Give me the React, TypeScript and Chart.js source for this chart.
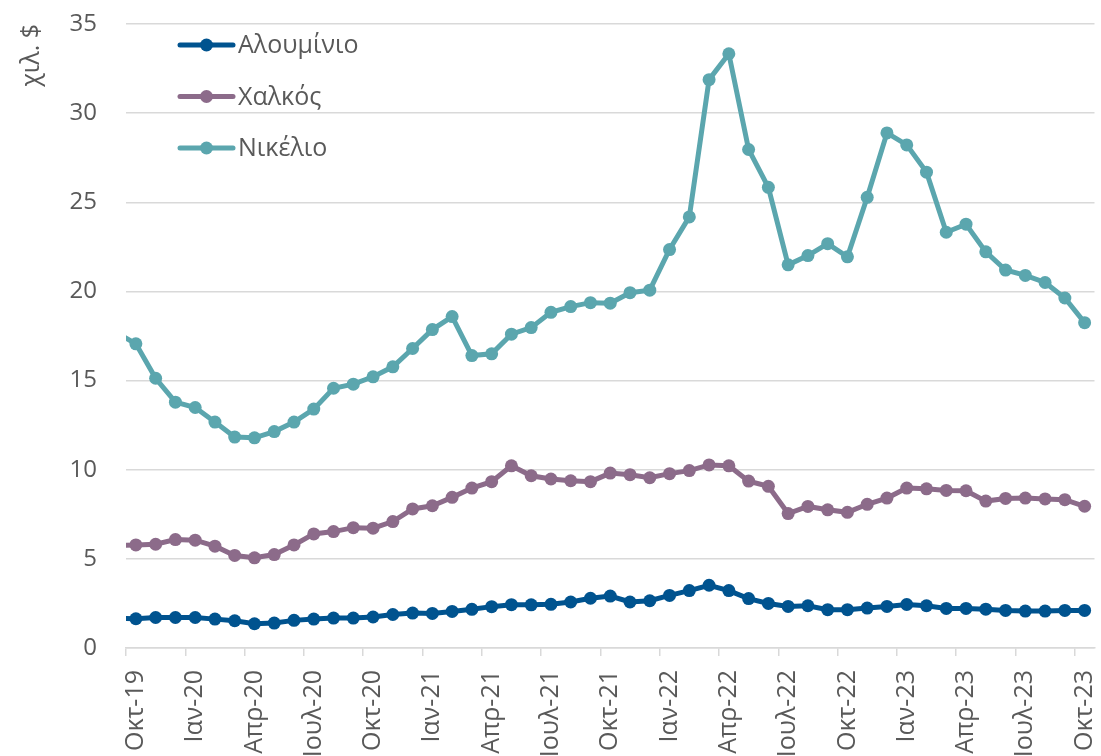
import React, { useEffect, useRef } from 'react';
import { Chart, registerables } from 'chart.js';

Chart.register(...registerables);

// Monthly categories, Sep-19 .. Oct-23 (Sep-19 is only partly visible at the left edge)
const months: string[] = [
  'Σεπ-19', 'Οκτ-19', 'Νοε-19', 'Δεκ-19',
  'Ιαν-20', 'Φεβ-20', 'Μαρ-20', 'Απρ-20', 'Μαϊ-20', 'Ιουν-20', 'Ιουλ-20', 'Αυγ-20', 'Σεπ-20', 'Οκτ-20', 'Νοε-20', 'Δεκ-20',
  'Ιαν-21', 'Φεβ-21', 'Μαρ-21', 'Απρ-21', 'Μαϊ-21', 'Ιουν-21', 'Ιουλ-21', 'Αυγ-21', 'Σεπ-21', 'Οκτ-21', 'Νοε-21', 'Δεκ-21',
  'Ιαν-22', 'Φεβ-22', 'Μαρ-22', 'Απρ-22', 'Μαϊ-22', 'Ιουν-22', 'Ιουλ-22', 'Αυγ-22', 'Σεπ-22', 'Οκτ-22', 'Νοε-22', 'Δεκ-22',
  'Ιαν-23', 'Φεβ-23', 'Μαρ-23', 'Απρ-23', 'Μαϊ-23', 'Ιουν-23', 'Ιουλ-23', 'Αυγ-23', 'Σεπ-23', 'Οκτ-23',
];

const firstVisible = 'Οκτ-19';
const labelEvery = 3;

const seriesNames: string[] = ['Αλουμίνιο', 'Χαλκός', 'Νικέλιο'];
const seriesColors: string[] = ['#00538F', '#8C6B8A', '#5BA6AE'];

const aluminium: number[] = [
  1.68, 1.64, 1.71, 1.71,
  1.71, 1.62, 1.53, 1.36, 1.40, 1.55, 1.62, 1.68, 1.68, 1.74, 1.88, 1.96,
  1.94, 2.05, 2.17, 2.32, 2.43, 2.42, 2.45, 2.58, 2.79, 2.91, 2.58, 2.65,
  2.95, 3.22, 3.52, 3.22, 2.77, 2.50, 2.33, 2.37, 2.15, 2.15, 2.24, 2.33,
  2.44, 2.37, 2.22, 2.22, 2.18, 2.11, 2.07, 2.07, 2.11, 2.11,
];

const copper: number[] = [
  5.74, 5.78, 5.82, 6.08,
  6.05, 5.71, 5.19, 5.06, 5.24, 5.78, 6.40, 6.53, 6.75, 6.72, 7.09, 7.80,
  7.98, 8.45, 8.97, 9.33, 10.22, 9.66, 9.48, 9.38, 9.33, 9.81, 9.72, 9.55,
  9.78, 9.95, 10.27, 10.22, 9.36, 9.07, 7.54, 7.94, 7.75, 7.61, 8.06, 8.41,
  8.97, 8.93, 8.84, 8.82, 8.24, 8.39, 8.41, 8.36, 8.32, 7.95,
];

const nickel: number[] = [
  17.7, 17.06, 15.13, 13.79,
  13.49, 12.67, 11.83, 11.79, 12.14, 12.67, 13.40, 14.57, 14.80, 15.21, 15.77, 16.80,
  17.86, 18.59, 16.40, 16.50, 17.60, 17.97, 18.83, 19.15, 19.37, 19.34, 19.93, 20.07,
  22.35, 24.18, 31.88, 33.33, 27.96, 25.84, 21.49, 22.01, 22.68, 21.94, 25.28, 28.89,
  28.22, 26.69, 23.32, 23.77, 22.22, 21.20, 20.90, 20.50, 19.63, 18.25,
];

const yTitle = 'χιλ. $';
const yMin = 0;
const yMax = 35;
const yStep = 5;

const FONT = "'Open Sans', 'Noto Sans', sans-serif";
const TEXT = '#595959';
const GRID = '#D9D9D9';

const insideLegend = {
  id: 'insideLegend',
  afterDraw(chart: any) {
    const { ctx, chartArea } = chart;
    chart.data.datasets.forEach((ds: any, i: number) => {
      const y = chartArea.top + 21 + i * 51.5;
      const x0 = chartArea.left + 54;
      const x1 = x0 + 53;
      ctx.save();
      ctx.strokeStyle = ds.borderColor;
      ctx.lineWidth = 5;
      ctx.lineCap = 'round';
      ctx.beginPath();
      ctx.moveTo(x0, y);
      ctx.lineTo(x1, y);
      ctx.stroke();
      ctx.fillStyle = ds.borderColor;
      ctx.beginPath();
      ctx.arc((x0 + x1) / 2, y, 6.5, 0, Math.PI * 2);
      ctx.fill();
      ctx.fillStyle = TEXT;
      ctx.font = `25px ${FONT}`;
      ctx.textAlign = 'left';
      ctx.textBaseline = 'middle';
      ctx.fillText(ds.label, x1 + 5, y + 1);
      ctx.restore();
    });
  },
};

export default function App() {
  const ref = useRef<HTMLCanvasElement | null>(null);

  useEffect(() => {
    if (!ref.current) return;
    const values = [aluminium, copper, nickel];
    const chart = new Chart(ref.current, {
      type: 'line',
      data: {
        labels: months,
        datasets: values.map((v, i) => ({
          label: seriesNames[i],
          data: v,
          borderColor: seriesColors[i],
          backgroundColor: seriesColors[i],
          borderWidth: 5,
          pointRadius: 6.5,
          pointBorderWidth: 0,
          pointBackgroundColor: seriesColors[i],
          tension: 0,
        })),
      },
      options: {
        responsive: false,
        animation: false,
        devicePixelRatio: 1,
        layout: { padding: { left: 0, right: 4, top: 24, bottom: 0 } },
        plugins: {
          legend: { display: false },
          tooltip: { enabled: false },
        },
        scales: {
          x: {
            type: 'category',
            min: firstVisible,
            offset: true,
            afterFit: (scale: any) => {
              scale.height = 108;
              scale.paddingLeft = 0;
              scale.paddingRight = 0;
            },
            grid: {
              offset: true,
              drawOnChartArea: false,
              drawTicks: true,
              tickLength: 8,
              lineWidth: 1.5,
              color: (c: any) => (typeof c.index === 'number' && c.index % labelEvery === 0 ? GRID : 'rgba(0,0,0,0)'),
            },
            border: { display: true, color: GRID, width: 1.5 },
            ticks: {
              autoSkip: false,
              minRotation: 90,
              maxRotation: 90,
              padding: 14,
              color: TEXT,
              font: { family: FONT, size: 25 },
              callback: function (this: any, value: any, index: number) {
                return index % labelEvery === 0 ? this.getLabelForValue(value) : '';
              },
            },
          },
          y: {
            min: yMin,
            max: yMax,
            afterFit: (scale: any) => {
              scale.width = 126;
              scale.paddingTop = 0;
              scale.paddingBottom = 0;
            },
            grid: { color: GRID, lineWidth: 1.5, drawTicks: false },
            border: { display: false },
            ticks: {
              stepSize: yStep,
              padding: 29,
              color: TEXT,
              font: { family: FONT, size: 24 },
            },
            title: {
              display: true,
              text: yTitle,
              align: 'end',
              color: TEXT,
              font: { family: FONT, size: 25 },
              padding: { top: 17, bottom: 0 },
            },
          },
        },
      },
      plugins: [insideLegend],
    } as any);
    return () => chart.destroy();
  }, []);

  return (
    <div style={{ position: 'fixed', left: 0, top: 0, width: 1101, height: 756, background: '#fff' }}>
      <canvas ref={ref} width={1101} height={756} style={{ display: 'block' }} />
    </div>
  );
}
